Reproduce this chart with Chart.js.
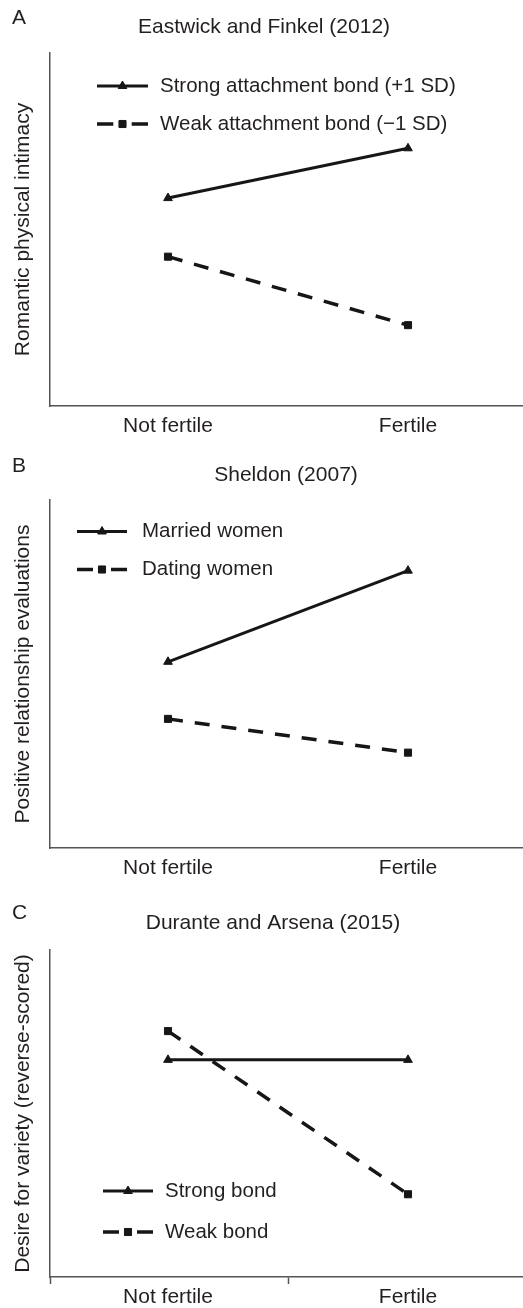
<!DOCTYPE html>
<html><head><meta charset="utf-8">
<script src="https://cdn.jsdelivr.net/npm/chart.js@4.4.1/dist/chart.umd.min.js"></script>
<style>
html,body{margin:0;padding:0;background:#fff;}
#wrap{position:relative;width:523px;height:1308px;overflow:hidden;}
.panel{position:absolute;left:0;width:523px;}
</style></head><body>
<div id="wrap">
  <div class="panel" style="top:0;height:440px"><canvas id="cA"></canvas></div>
  <div class="panel" style="top:440px;height:440px"><canvas id="cB"></canvas></div>
  <div class="panel" style="top:880px;height:428px"><canvas id="cC"></canvas></div>
</div>
<script>
// ---- data ----
const categories = ["Not fertile", "Fertile"];

const titleA = "Eastwick and Finkel (2012)";
const yTitleA = "Romantic physical intimacy";
const seriesNamesA = ["Strong attachment bond (+1 SD)", "Weak attachment bond (\u22121 SD)"];
const strongA = [58.9, 73.0];
const weakA = [42.3, 22.9];

const titleB = "Sheldon (2007)";
const yTitleB = "Positive relationship evaluations";
const seriesNamesB = ["Married women", "Dating women"];
const marriedB = [53.5, 79.7];
const datingB = [37.1, 27.4];

const titleC = "Durante and Arsena (2015)";
const yTitleC = "Desire for variety (reverse-scored)";
const seriesNamesC = ["Strong bond", "Weak bond"];
const strongC = [66.4, 66.4];
const weakC = [75.2, 25.3];

// ---- style ----
const FONT = '"Liberation Sans", Arial, Helvetica, sans-serif';
const TEXT = '#231f20';
const INK = '#161616';
const AXIS = '#555555';
const XMIN = -118 / 240, XMAX = 355 / 240;

function drawMarker(ctx, style, x, y, r) {
  if (Chart.helpers && Chart.helpers.drawPoint) {
    Chart.helpers.drawPoint(ctx, {pointStyle: style, radius: r, borderWidth: 1, rotation: 0}, x, y);
    return;
  }
  ctx.beginPath();
  if (style === 'triangle') {
    ctx.moveTo(x, y - r); ctx.lineTo(x + r * 0.866, y + r / 2); ctx.lineTo(x - r * 0.866, y + r / 2); ctx.closePath();
  } else {
    const s = r * Math.SQRT1_2; ctx.rect(x - s, y - s, 2 * s, 2 * s);
  }
  ctx.fill(); ctx.stroke();
}

const panelDecor = {
  id: 'panelDecor',
  afterDraw(chart, args, o) {
    const ctx = chart.ctx;
    ctx.save();
    ctx.fillStyle = TEXT;
    ctx.font = '21px ' + FONT;
    ctx.textBaseline = 'middle';
    ctx.textAlign = 'left';
    ctx.fillText(o.letter, o.letterX, o.letterY);
    ctx.textAlign = 'center';
    ctx.fillText(o.title, o.titleX, o.titleY);
    // legend
    ctx.font = '20.5px ' + FONT;
    chart.data.datasets.forEach((ds, i) => {
      const y = o.legendY[i];
      const x1 = o.lineX1, x2 = o.lineX2, w = x2 - x1, mx = (x1 + x2) / 2;
      ctx.strokeStyle = INK; ctx.fillStyle = INK;
      ctx.lineWidth = ds.borderWidth;
      ctx.setLineDash([]);
      ctx.beginPath();
      if (ds.borderDash && ds.borderDash.length) {
        ctx.moveTo(x1, y); ctx.lineTo(x1 + w * 0.32, y);
        ctx.moveTo(x2 - w * 0.32, y); ctx.lineTo(x2, y);
      } else {
        ctx.moveTo(x1, y); ctx.lineTo(x2, y);
      }
      ctx.stroke();
      ctx.lineWidth = 1;
      drawMarker(ctx, ds.pointStyle, mx, y, ds.pointRadius);
      ctx.fillStyle = TEXT;
      ctx.textAlign = 'left';
      ctx.fillText(ds.label, o.textX, y);
    });
    ctx.restore();
  }
};

function makeDatasets(names, a, b) {
  return [
    {label: names[0], data: a.map((v, i) => ({x: i, y: v})), borderColor: INK, backgroundColor: INK,
     borderWidth: 3, pointStyle: 'triangle', pointRadius: 5, pointBorderWidth: 1,
     pointBackgroundColor: INK, pointBorderColor: INK, tension: 0, borderDash: []},
    {label: names[1], data: b.map((v, i) => ({x: i, y: v})), borderColor: INK, backgroundColor: INK,
     borderWidth: 3.5, pointStyle: 'rect', pointRadius: 5, pointBorderWidth: 1,
     pointBackgroundColor: INK, pointBorderColor: INK, tension: 0, borderDash: [15, 12]}
  ];
}

function makeChart(id, datasets, o) {
  return new Chart(document.getElementById(id), {
    type: 'line',
    data: {datasets},
    options: {
      responsive: true, maintainAspectRatio: false, animation: false,
      layout: {autoPadding: false, padding: {top: o.padTop, left: 0, right: 0, bottom: 0}},
      plugins: {legend: {display: false}, tooltip: {enabled: false}, panelDecor: o.decor},
      scales: {
        x: {
          type: 'linear', min: XMIN, max: XMAX, bounds: 'data',
          afterBuildTicks: s => { s.ticks = o.xTicks.map(v => ({value: v})); },
          afterFit: s => { s.height = o.xAxisH; s.paddingLeft = 0; s.paddingRight = 0; },
          ticks: {
            callback: v => (v === 0 || v === 1) ? categories[v] : '',
            font: {size: 21, family: FONT}, color: TEXT, padding: o.tickPad,
            maxRotation: 0, autoSkip: false
          },
          grid: {display: o.showTicks, drawOnChartArea: false, drawTicks: o.showTicks, tickLength: 7,
                 tickWidth: 1.5, tickColor: c => (c.tick && c.tick.value !== 0 && c.tick.value !== 1) ? AXIS : 'rgba(0,0,0,0)'},
          border: {display: true, color: AXIS, width: 1.5}
        },
        y: {
          min: 0, max: 100,
          afterFit: s => { s.width = 50; s.paddingTop = 0; s.paddingBottom = 0; },
          ticks: {display: false},
          grid: {display: false},
          border: {display: true, color: AXIS, width: 1.5},
          title: {display: true, text: o.yTitle, font: {size: 21, family: FONT}, color: TEXT, padding: {top: 11, bottom: 0}}
        }
      }
    },
    plugins: [panelDecor]
  });
}

makeChart('cA', makeDatasets(seriesNamesA, strongA, weakA), {
  padTop: 53, xAxisH: 34, tickPad: 8, showTicks: false, xTicks: [0, 1], yTitle: yTitleA,
  decor: {letter: 'A', letterX: 12, letterY: 18.5, title: titleA, titleX: 264, titleY: 27,
          lineX1: 97, lineX2: 148, textX: 160, legendY: [86, 124]}
});
makeChart('cB', makeDatasets(seriesNamesB, marriedB, datingB), {
  padTop: 60, xAxisH: 32, tickPad: 8, showTicks: false, xTicks: [0, 1], yTitle: yTitleB,
  decor: {letter: 'B', letterX: 12, letterY: 26, title: titleB, titleX: 286, titleY: 35,
          lineX1: 77, lineX2: 127, textX: 142, legendY: [91.5, 129.5]}
});
makeChart('cC', makeDatasets(seriesNamesC, strongC, weakC), {
  padTop: 70, xAxisH: 31, tickPad: 1, showTicks: true, xTicks: [XMIN, 0, 0.5, 1], yTitle: yTitleC,
  decor: {letter: 'C', letterX: 12, letterY: 33.5, title: titleC, titleX: 273, titleY: 43,
          lineX1: 103, lineX2: 153, textX: 165, legendY: [311, 352]}
});
</script>
</body></html>
